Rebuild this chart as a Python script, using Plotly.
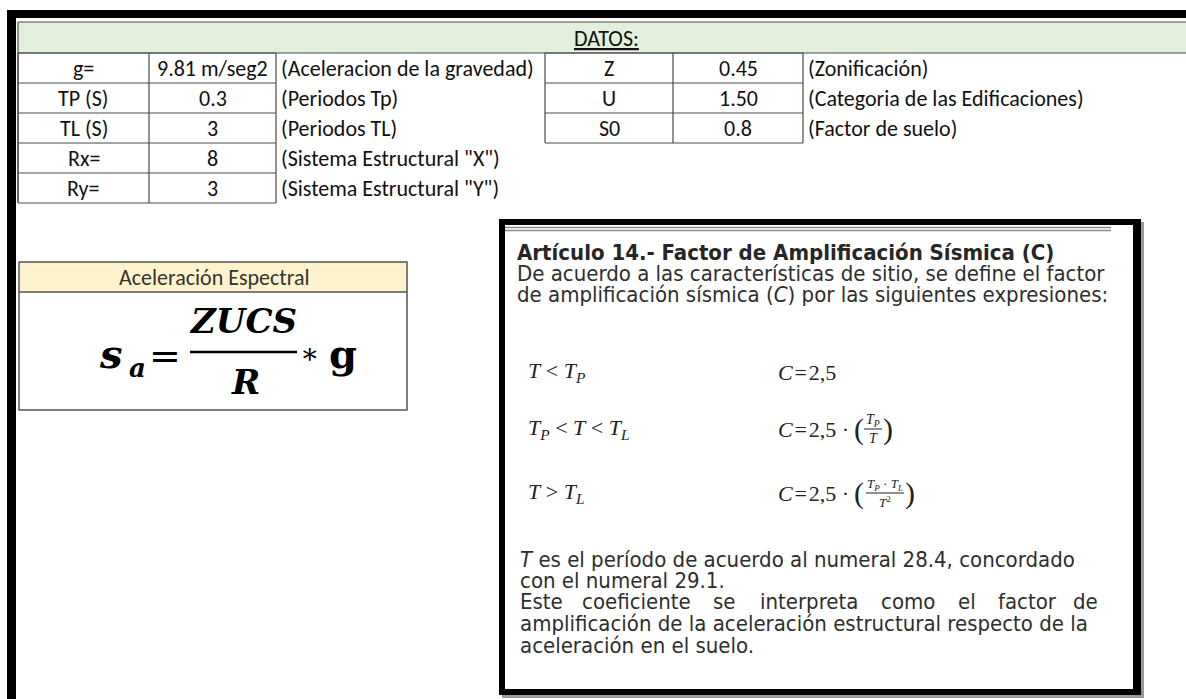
import plotly.graph_objects as go

# ---------------- data ----------------
header_title = "DATOS:"
left_labels = ["g=", "TP (S)", "TL (S)", "Rx=", "Ry="]
left_values = ["9.81 m/seg2", "0.3", "3", "8", "3"]
left_desc = ["(Aceleracion de la gravedad)", "(Periodos Tp)", "(Periodos TL)",
             '(Sistema Estructural "X")', '(Sistema Estructural "Y")']
right_labels = ["Z", "U", "S0"]
right_values = ["0.45", "1.50", "0.8"]
right_desc = ["(Zonificación)", "(Categoria de las Edificaciones)", "(Factor de suelo)"]
box_title = "Aceleración Espectral"
article_title = "Artículo 14.- Factor de Amplificación Sísmica (C)"
article_intro = ["De acuerdo a las características de sitio, se define el factor",
                 "de amplificación sísmica (<i>C</i>) por las siguientes expresiones:"]
conditions = ["<i>T</i> < <i>T<sub>P</sub></i>",
              "<i>T<sub>P</sub></i> < <i>T</i> < <i>T<sub>L</sub></i>",
              "<i>T</i> > <i>T<sub>L</sub></i>"]
c_prefix = ["<i>C</i>\u200a=\u200a2,5", "<i>C</i>\u200a=\u200a2,5 · ", "<i>C</i>\u200a=\u200a2,5 · "]
frac_num = [None, "<i>T<sub>P</sub></i>", "<i>T<sub>P</sub></i> · <i>T<sub>L</sub></i>"]
frac_den = [None, "<i>T</i>", "<i>T</i><sup>2</sup>"]
para_lines = ["<i>T</i> es el período de acuerdo al numeral 28.4, concordado",
              "con el numeral 29.1."]
justified_words = ["Este", "coeficiente", "se", "interpreta", "como", "el", "factor", "de"]
para_tail = ["amplificación de la aceleración estructural respecto de la",
             "aceleración en el suelo."]

# ---------------- styling ----------------
W, H = 1186, 699
SHEET = "Carlito, Lato, Calibri, sans-serif"
ART = "Liberation Sans Narrow, Arial Narrow, DejaVu Sans Condensed, Liberation Sans, sans-serif"
SERIF = "Liberation Serif, Times New Roman, serif"
MATH = "DejaVu Serif, Cambria Math, serif"
GRID = "#4a4a4a"
TXT = "#111111"
ART_TXT = "#2e2e2e"
FS = 22

shapes = []
ann = []


def line(x0, y0, x1, y1, color=GRID, w=1.2):
    shapes.append(dict(type="line", xref="x", yref="y", x0=x0, y0=y0, x1=x1, y1=y1,
                       line=dict(color=color, width=w)))


def rect(x0, y0, x1, y1, fill, color=None, w=0):
    shapes.append(dict(type="rect", xref="x", yref="y", x0=x0, y0=y0, x1=x1, y1=y1,
                       fillcolor=fill, line=dict(color=color or fill, width=w), layer="below"))


def text(x, y, s, size, family=SHEET, color=TXT, anchor="center", **kw):
    ann.append(dict(x=x, y=y, xref="x", yref="y", text=s, showarrow=False,
                    xanchor=anchor, yanchor="middle",
                    font=dict(size=size, family=family, color=color, **kw)))


# outer black frame
rect(7, 10, W, 18, "#000000")
rect(7, 10, 16, H, "#000000")

# header row
rect(18, 22, W, 53, "#E2EFDA")
line(18, 22, W, 22)
line(18, 53, W, 53)
line(18, 22, 18, 202)
text(606, 38, "<u>" + header_title + "</u>", FS)

# left table
cols = [18, 149, 276]
row_top = 53
row_h = 30
n_left = len(left_labels)
for i in range(n_left + 1):
    y = row_top + i * row_h
    line(cols[0], y, cols[2], y)
for x in cols:
    line(x, row_top, x, row_top + n_left * row_h)
for i in range(n_left):
    yc = row_top + i * row_h + 15
    text((cols[0] + cols[1]) / 2, yc, left_labels[i], FS)
    text((cols[1] + cols[2]) / 2, yc, left_values[i], FS)
    text(cols[2] + 3, yc, left_desc[i], FS, anchor="left")

# right table
rcols = [545, 673, 803]
n_right = len(right_labels)
for i in range(n_right + 1):
    y = row_top + i * row_h
    line(rcols[0], y, rcols[2], y)
for x in rcols:
    line(x, row_top, x, row_top + n_right * row_h)
for i in range(n_right):
    yc = row_top + i * row_h + 15
    text((rcols[0] + rcols[1]) / 2, yc, right_labels[i], FS)
    text((rcols[1] + rcols[2]) / 2, yc, right_values[i], FS)
    text(rcols[2] + 3, yc, right_desc[i], FS, anchor="left")

# aceleracion espectral box
rect(19, 262, 407, 292, "#FFF2CC")
shapes.append(dict(type="rect", xref="x", yref="y", x0=19, y0=262, x1=407, y1=410,
                   line=dict(color="#555555", width=1.5)))
line(19, 292, 407, 292, "#555555", 1.5)
text(214, 277, box_title, FS, color="#333333")
# formula s_a = ZUCS/R * g
text(97, 353, "<b><i>s</i></b>", 40, MATH, "#000", anchor="left")
text(127, 368, "<b><i>a</i></b>", 26, MATH, "#000", anchor="left")
text(165, 356, "=", 38, MATH, "#000")
text(243, 321, "<b><i>ZUCS</i></b>", 34, MATH, "#000")
line(190, 352, 297, 352, "#000", 2.5)
text(245, 382, "<b><i>R</i></b>", 34, MATH, "#000")
text(309, 353, "∗", 28, MATH, "#000")
text(343, 353, "<b>g</b>", 40, MATH, "#000")

# article box
rect(502, 222, 1144, 698, "#9a9a9a")
rect(499, 219, 1141, 695, "#000000")
rect(505, 225, 1133, 689, "#ffffff")
line(505, 227.5, 1111, 227.5, "#8a8a8a", 1.5)
line(505, 230.5, 1111, 230.5, "#8a8a8a", 1.5)

text(515, 252, "<b>" + article_title + "</b>", 22, ART, "#262626", anchor="left")
intro_y = [273, 294]
for s, y in zip(article_intro, intro_y):
    text(515, y, s, 22, ART, ART_TXT, anchor="left")

cond_y = [372, 429, 493]
for k in range(3):
    text(526, cond_y[k], conditions[k], 22, SERIF, "#222", anchor="left")
    text(776, cond_y[k], c_prefix[k], 22, SERIF, "#222", anchor="left")

# fraction for row 2
text(859, 429, "(", 30, SERIF, "#222")
text(873, 420, frac_num[1], 14, SERIF, "#222")
line(864, 429, 882, 429, "#222", 1)
text(873, 438, frac_den[1], 14, SERIF, "#222")
text(888, 429, ")", 30, SERIF, "#222")
# fraction for row 3
text(859, 493, "(", 30, SERIF, "#222")
text(885, 484, frac_num[2], 13, SERIF, "#222")
line(866, 493, 904, 493, "#222", 1)
text(885, 502, frac_den[2], 13, SERIF, "#222")
text(910, 493, ")", 30, SERIF, "#222")

para_y = [559, 580, 601, 623, 645]
text(518, para_y[0], para_lines[0], 22, ART, ART_TXT, anchor="left")
text(518, para_y[1], para_lines[1], 22, ART, ART_TXT, anchor="left")
word_x = [518, 580, 711, 758, 879, 956, 996, 1100]
for j, (w, x) in enumerate(zip(justified_words, word_x)):
    anc = "right" if j == len(justified_words) - 1 else "left"
    text(x, para_y[2], w, 22, ART, ART_TXT, anchor=anc)
text(518, para_y[3], para_tail[0], 22, ART, ART_TXT, anchor="left")
text(518, para_y[4], para_tail[1], 22, ART, ART_TXT, anchor="left")

fig = go.Figure()
fig.add_trace(go.Scatter(x=[0, W], y=[0, H], mode="markers", marker=dict(opacity=0),
                         hoverinfo="skip", showlegend=False))
fig.update_layout(
    width=W, height=H, margin=dict(l=0, r=0, t=0, b=0),
    paper_bgcolor="#ffffff", plot_bgcolor="#ffffff",
    xaxis=dict(range=[0, W], visible=False, fixedrange=True),
    yaxis=dict(range=[H, 0], visible=False, fixedrange=True),
    shapes=shapes, annotations=ann, showlegend=False,
)
fig.write_html("out.html", config={"displayModeBar": False},
               post_script="document.body.style.margin='0';document.body.style.overflow='hidden';")
